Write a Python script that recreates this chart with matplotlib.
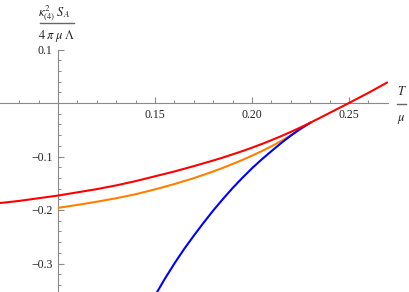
import matplotlib
matplotlib.use("Agg")
import matplotlib.pyplot as plt
from matplotlib.lines import Line2D
from matplotlib.ticker import FixedLocator, FixedFormatter

# ---- data ----
red_x = [0.0701, 0.08, 0.09, 0.10, 0.11, 0.12, 0.13, 0.14, 0.15, 0.16, 0.17,
         0.18, 0.185, 0.19, 0.195, 0.20, 0.205, 0.21, 0.215, 0.22, 0.225, 0.23,
         0.24, 0.25, 0.26, 0.27]
red_y = [-0.187, -0.183, -0.178, -0.173, -0.167, -0.161, -0.154, -0.146, -0.137,
         -0.128, -0.118, -0.1075, -0.102, -0.096, -0.090, -0.0835, -0.0767, -0.0695,
         -0.062, -0.054, -0.0457, -0.037, -0.0185, 0.0, 0.019, 0.039]

orange_x = [0.10, 0.11, 0.12, 0.13, 0.14, 0.15, 0.16, 0.17, 0.18, 0.185, 0.19,
            0.195, 0.20, 0.205, 0.21, 0.215, 0.22, 0.225, 0.2304]
orange_y = [-0.196, -0.1905, -0.1845, -0.178, -0.1705, -0.1615, -0.1515, -0.1405,
            -0.128, -0.1212, -0.114, -0.1065, -0.0985, -0.090, -0.081, -0.071,
            -0.0605, -0.049, -0.036]

blue_x = [0.150, 0.155, 0.16, 0.165, 0.17, 0.175, 0.18, 0.185, 0.19, 0.195, 0.20,
          0.205, 0.21, 0.215, 0.22, 0.225, 0.2304]
blue_y = [-0.360, -0.329, -0.300, -0.273, -0.248, -0.224, -0.201, -0.1795, -0.159,
          -0.140, -0.122, -0.1055, -0.090, -0.075, -0.061, -0.048, -0.036]

x_major = [0.15, 0.20, 0.25]
x_labels = ["0.15", "0.20", "0.25"]
y_major = [0.1, -0.1, -0.2, -0.3]
y_labels = ["0.1", "\u22120.1", "\u22120.2", "\u22120.3"]

plt.rcParams['mathtext.fontset'] = 'stix'
plt.rcParams['font.family'] = ['Liberation Serif', 'DejaVu Serif']

W, H = 409, 292
fig = plt.figure(figsize=(W / 100, H / 100), dpi=100)
ax = fig.add_axes([0, 0, 388 / W, 1])
ax.set_xlim(0.0701, 0.2701)
ax.set_ylim(-(292 - 103) / 535, 103 / 535)

ax.plot(orange_x, orange_y, color=(1, 0.5, 0), lw=1.5, solid_capstyle='butt', zorder=3)
ax.plot(blue_x, blue_y, color=(0, 0, 1), lw=1.5, solid_capstyle='butt', zorder=4)
ax.plot(red_x, red_y, color=(1, 0, 0), lw=1.5, solid_capstyle='butt', zorder=5)

axcol = '#8a8a8a'
for s in ['top', 'right']:
    ax.spines[s].set_visible(False)
ax.spines['left'].set_position(('data', 0.1))
ax.spines['bottom'].set_position(('data', 0.0))
ax.spines['left'].set_bounds(-0.36, 0.1)
for s in ['left', 'bottom']:
    ax.spines[s].set_color(axcol)
    ax.spines[s].set_linewidth(0.8)

ax.xaxis.set_major_locator(FixedLocator(x_major))
ax.xaxis.set_major_formatter(FixedFormatter(x_labels))
ax.xaxis.set_minor_locator(FixedLocator([0.08, 0.09, 0.11, 0.12, 0.13, 0.14, 0.16, 0.17,
                                         0.18, 0.19, 0.21, 0.22, 0.23, 0.24, 0.26]))
ax.yaxis.set_major_locator(FixedLocator(y_major))
ax.yaxis.set_major_formatter(FixedFormatter(y_labels))
ax.yaxis.set_minor_locator(FixedLocator([0.08, 0.06, 0.04, 0.02, -0.02, -0.04, -0.06,
                                         -0.08, -0.12, -0.14, -0.16, -0.18, -0.22,
                                         -0.24, -0.26, -0.28, -0.32, -0.34]))
ax.tick_params(which='major', direction='in', length=4, width=0.8, color=axcol,
               labelsize=8.5, labelcolor='#222222', pad=4)
ax.tick_params(which='minor', direction='in', length=2.5, width=0.7, color=axcol)
ax.patch.set_visible(False)

# y label (fraction)
fig.text(54 / W, 1 - 13 / H, r'$\kappa^{2}_{(4)}\;S_A$', ha='center', va='center',
         fontsize=9, color='#222222')
fig.add_artist(Line2D([40 / W, 74 / W], [1 - 23 / H, 1 - 23 / H], color='#666666',
                      lw=1.0, transform=fig.transFigure))
fig.text(57 / W, 1 - 36 / H, r'$4\;\pi\;\mu\;\Lambda$', ha='center', va='center',
         fontsize=9, color='#222222')

# x label (fraction)
fig.text(401.5 / W, 1 - 92 / H, r'$T$', ha='center', va='center', fontsize=9,
         color='#222222')
fig.add_artist(Line2D([397 / W, 406 / W], [1 - 104 / H, 1 - 104 / H], color='#666666',
                      lw=1.0, transform=fig.transFigure))
fig.text(401.5 / W, 1 - 119 / H, r'$\mu$', ha='center', va='center', fontsize=9,
         color='#222222')

fig.savefig('out.png', dpi=100)
